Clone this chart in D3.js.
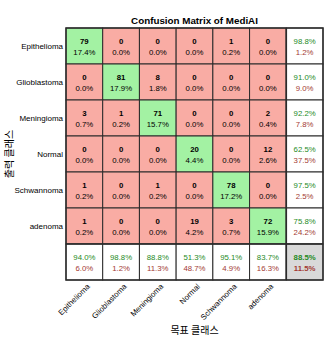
<!DOCTYPE html>
<html>
<head>
<meta charset="utf-8">
<script src="https://cdn.jsdelivr.net/npm/d3@7"></script>
<style>
  body { margin: 0; background: #fff; }
  text { font-family: "Liberation Sans", Arial, sans-serif; }
</style>
</head>
<body>
<div id="chart"></div>
<script>
// data
const classes = ["Epithelioma", "Glioblastoma", "Meningioma", "Normal", "Schwannoma", "adenoma"];
const counts = [
    [79, 0, 0, 0, 1, 0],
    [0, 81, 8, 0, 0, 0],
    [3, 1, 71, 0, 0, 2],
    [0, 0, 0, 20, 0, 12],
    [1, 0, 1, 0, 78, 0],
    [1, 0, 0, 19, 3, 72]
];
const cellPct = [
    ["17.4%", "0.0%", "0.0%", "0.0%", "0.2%", "0.0%"],
    ["0.0%", "17.9%", "1.8%", "0.0%", "0.0%", "0.0%"],
    ["0.7%", "0.2%", "15.7%", "0.0%", "0.0%", "0.4%"],
    ["0.0%", "0.0%", "0.0%", "4.4%", "0.0%", "2.6%"],
    ["0.2%", "0.0%", "0.2%", "0.0%", "17.2%", "0.0%"],
    ["0.2%", "0.0%", "0.0%", "4.2%", "0.7%", "15.9%"]
];
const rowGood = ["98.8%", "91.0%", "92.2%", "62.5%", "97.5%", "75.8%"];
const rowBad = ["1.2%", "9.0%", "7.8%", "37.5%", "2.5%", "24.2%"];
const colGood = ["94.0%", "98.8%", "88.8%", "51.3%", "95.1%", "83.7%"];
const colBad = ["6.0%", "1.2%", "11.3%", "48.7%", "4.9%", "16.3%"];
const totalGood = "88.5%";
const totalBad = "11.5%";

const width = 332, height = 342;
const margin = {top: 28, right: 9, bottom: 62, left: 66};
const n = classes.length + 1;

const svg = d3.select("#chart").append("svg")
    .attr("width", width)
    .attr("height", height);

const x = d3.scaleBand().domain(d3.range(n)).range([margin.left, width - margin.right]);
const y = d3.scaleBand().domain(d3.range(n)).range([margin.top, height - margin.bottom]);

const green = "#a3f2a3";
const red = "#f9aca4";
const txtGreen = "#1e8a1e";
const txtRed = "#a33a33";

// build cells
let cells = [];
for (let r = 0; r < n; r++) {
    for (let c = 0; c < n; c++) {
        let cell = {r: r, c: c};
        if (r < 6 && c < 6) {
            cell.fill = r == c ? green : red;
            cell.top = counts[r][c];
            cell.bottom = cellPct[r][c];
            cell.kind = "count";
        } else if (r < 6) {
            cell.fill = "#ffffff";
            cell.top = rowGood[r];
            cell.bottom = rowBad[r];
            cell.kind = "summary";
        } else if (c < 6) {
            cell.fill = "#ffffff";
            cell.top = colGood[c];
            cell.bottom = colBad[c];
            cell.kind = "summary";
        } else {
            cell.fill = "#d9d9d9";
            cell.top = totalGood;
            cell.bottom = totalBad;
            cell.kind = "total";
        }
        cells.push(cell);
    }
}

const g = svg.append("g");

g.selectAll("rect.cell")
    .data(cells)
    .enter()
    .append("rect")
    .attr("class", "cell")
    .attr("x", d => x(d.c))
    .attr("y", d => y(d.r))
    .attr("width", x.bandwidth())
    .attr("height", y.bandwidth())
    .attr("fill", d => d.fill)
    .attr("stroke", "#2b2b2b")
    .attr("stroke-width", 1);

// thicker frame round the summary row / column
g.append("line")
    .attr("x1", x(6)).attr("x2", x(6))
    .attr("y1", y(0)).attr("y2", y(6) + y.bandwidth())
    .attr("stroke", "#2b2b2b").attr("stroke-width", 1.6);
g.append("line")
    .attr("x1", x(0)).attr("x2", x(6) + x.bandwidth())
    .attr("y1", y(6)).attr("y2", y(6))
    .attr("stroke", "#2b2b2b").attr("stroke-width", 1.6);
g.append("rect")
    .attr("x", x(0)).attr("y", y(0))
    .attr("width", x.bandwidth() * n).attr("height", y.bandwidth() * n)
    .attr("fill", "none")
    .attr("stroke", "#2b2b2b").attr("stroke-width", 1.4);

g.selectAll("text.top")
    .data(cells)
    .enter()
    .append("text")
    .attr("class", "top")
    .attr("x", d => x(d.c) + x.bandwidth() / 2)
    .attr("y", d => y(d.r) + y.bandwidth() / 2 - 2.5)
    .attr("text-anchor", "middle")
    .attr("font-size", "7.8px")
    .attr("font-weight", d => d.kind == "summary" ? "normal" : "bold")
    .attr("fill", d => d.kind == "count" ? "#000" : txtGreen)
    .text(d => d.top);

g.selectAll("text.bottom")
    .data(cells)
    .enter()
    .append("text")
    .attr("class", "bottom")
    .attr("x", d => x(d.c) + x.bandwidth() / 2)
    .attr("y", d => y(d.r) + y.bandwidth() / 2 + 9)
    .attr("text-anchor", "middle")
    .attr("font-size", "7.8px")
    .attr("font-weight", d => d.kind == "total" ? "bold" : "normal")
    .attr("fill", d => d.kind == "count" ? "#000" : txtRed)
    .text(d => d.bottom);

// row labels
g.selectAll("text.rowlab")
    .data(classes)
    .enter()
    .append("text")
    .attr("class", "rowlab")
    .attr("x", margin.left - 3)
    .attr("y", (d, i) => y(i) + y.bandwidth() / 2 + 3)
    .attr("text-anchor", "end")
    .attr("font-size", "8px")
    .attr("fill", "#000")
    .text(d => d);

// column labels, rotated
g.selectAll("text.collab")
    .data(classes)
    .enter()
    .append("text")
    .attr("class", "collab")
    .attr("text-anchor", "end")
    .attr("font-size", "7.8px")
    .attr("fill", "#000")
    .attr("transform", (d, i) => "translate(" + (x(i) + x.bandwidth() / 2 + 6) + "," + (height - margin.bottom + 7) + ") rotate(-45)")
    .text(d => d);

// title
svg.append("text")
    .attr("x", (margin.left + width - margin.right) / 2)
    .attr("y", 24)
    .attr("text-anchor", "middle")
    .attr("font-size", "9.8px")
    .attr("font-weight", "bold")
    .text("Confusion Matrix of MediAI");

// axis titles
svg.append("text")
    .attr("x", (margin.left + width - margin.right) / 2)
    .attr("y", 334)
    .attr("text-anchor", "middle")
    .attr("font-size", "10px")
    .style("font-family", "'Noto Sans CJK KR', sans-serif")
    .text("목표 클래스");

svg.append("text")
    .attr("transform", "translate(13," + ((margin.top + height - margin.bottom) / 2) + ") rotate(-90)")
    .attr("text-anchor", "middle")
    .attr("font-size", "10px")
    .style("font-family", "'Noto Sans CJK KR', sans-serif")
    .text("출력 클래스");
</script>
</body>
</html>
